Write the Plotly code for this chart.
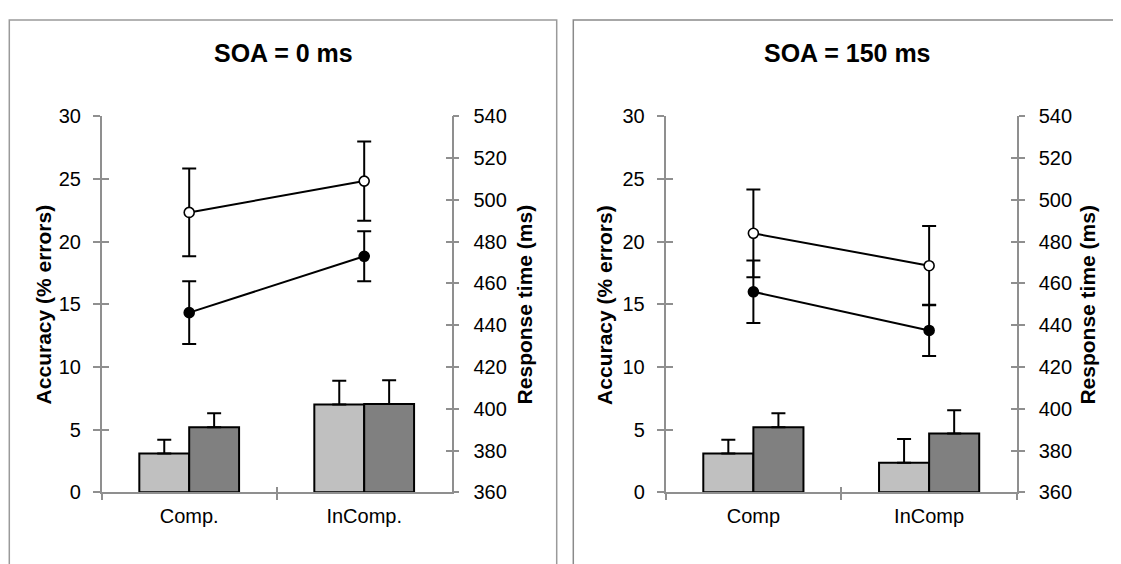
import plotly.graph_objects as go

W, H = 1121, 564
OFF = 8  # the page body adds an 8 px margin; compensate so pixels match the window

# ---------------- data ----------------
cats_0 = ["Comp.", "InComp."]
cats_150 = ["Comp", "InComp"]

# SOA = 0 ms : accuracy (% errors), bars
acc_light_0 = [3.1, 7.0]
acc_light_err_0 = [1.1, 1.9]
acc_dark_0 = [5.2, 7.05]
acc_dark_err_0 = [1.1, 1.9]
# SOA = 0 ms : response time (ms), lines
rt_open_0 = [494, 509]
rt_open_err_0 = [21, 19]
rt_fill_0 = [446, 473]
rt_fill_err_0 = [15, 12]

# SOA = 150 ms
acc_light_150 = [3.1, 2.35]
acc_light_err_150 = [1.1, 1.9]
acc_dark_150 = [5.2, 4.7]
acc_dark_err_150 = [1.1, 1.85]
rt_open_150 = [484, 468.5]
rt_open_err_150 = [21, 19]
rt_fill_150 = [456, 437.5]
rt_fill_err_150 = [15, 12.3]

acc_ticks = [0, 5, 10, 15, 20, 25, 30]
rt_ticks = [360, 380, 400, 420, 440, 460, 480, 500, 520, 540]

# ---------------- styling ----------------
FONT = "Arial, Liberation Sans, sans-serif"
AX = "#8f8f8f"
LIGHT = "#c0c0c0"
DARK = "#808080"

def px_x(p):
    return (p - OFF) / W

def px_y(p):
    return 1 - (p - OFF) / H

fig = go.Figure()

def add_panel(cats, al, ale, ad, ade, ro, roe, rf, rfe, xa, ya, ya2):
    fig.add_trace(go.Bar(x=cats, y=al, marker=dict(color=LIGHT, line=dict(color="black", width=2)),
                         error_y=dict(type="data", symmetric=False, array=ale, arrayminus=[0] * len(ale),
                                      thickness=2, width=7, color="black"),
                         xaxis=xa, yaxis=ya, showlegend=False))
    fig.add_trace(go.Bar(x=cats, y=ad, marker=dict(color=DARK, line=dict(color="black", width=2)),
                         error_y=dict(type="data", symmetric=False, array=ade, arrayminus=[0] * len(ade),
                                      thickness=2, width=7, color="black"),
                         xaxis=xa, yaxis=ya, showlegend=False))
    fig.add_trace(go.Scatter(x=cats, y=ro, mode="lines+markers",
                             line=dict(color="black", width=2),
                             marker=dict(symbol="circle", size=10, color="white", line=dict(color="black", width=1.6)),
                             error_y=dict(type="data", array=roe, thickness=2, width=7, color="black"),
                             xaxis=xa, yaxis=ya2, showlegend=False))
    fig.add_trace(go.Scatter(x=cats, y=rf, mode="lines+markers",
                             line=dict(color="black", width=2),
                             marker=dict(symbol="circle", size=10, color="black", line=dict(color="black", width=1.6)),
                             error_y=dict(type="data", array=rfe, thickness=2, width=7, color="black"),
                             xaxis=xa, yaxis=ya2, showlegend=False))

add_panel(cats_0, acc_light_0, acc_light_err_0, acc_dark_0, acc_dark_err_0,
          rt_open_0, rt_open_err_0, rt_fill_0, rt_fill_err_0, "x", "y", "y2")
add_panel(cats_150, acc_light_150, acc_light_err_150, acc_dark_150, acc_dark_err_150,
          rt_open_150, rt_open_err_150, rt_fill_150, rt_fill_err_150, "x2", "y3", "y4")

# dummy traces carrying the inner half of the crossing ticks
fig.add_trace(go.Scatter(x=cats_0, y=[None, None], xaxis="x3", yaxis="y5", showlegend=False, hoverinfo="skip"))
fig.add_trace(go.Scatter(x=cats_0, y=[None, None], xaxis="x3", yaxis="y6", showlegend=False, hoverinfo="skip"))
fig.add_trace(go.Scatter(x=cats_150, y=[None, None], xaxis="x4", yaxis="y7", showlegend=False, hoverinfo="skip"))
fig.add_trace(go.Scatter(x=cats_150, y=[None, None], xaxis="x4", yaxis="y8", showlegend=False, hoverinfo="skip"))

dom1 = [px_x(101.7), px_x(451.7)]
dom2 = [px_x(665.5), px_x(1017)]
ydom = [px_y(500.5), px_y(109.3)]

tickfont = dict(family=FONT, size=20, color="black")

def xaxis_main(dom, anchor):
    return dict(domain=dom, anchor=anchor, type="category", range=[-0.5, 1.5],
                showline=True, linecolor=AX, linewidth=1.5, showgrid=False, zeroline=False,
                ticks="outside", tickson="boundaries", ticklen=6, tickcolor=AX, tickwidth=1.5,
                tickfont=tickfont, ticklabelstandoff=5, fixedrange=True)

def xaxis_inner(dom, anchor, over):
    return dict(domain=dom, anchor=anchor, overlaying=over, type="category", range=[-0.5, 1.5],
                showline=False, showgrid=False, zeroline=False, showticklabels=False,
                ticks="inside", tickson="boundaries", ticklen=5, tickcolor=AX, tickwidth=1.5)

def yacc(anchor, inner=False, over=None):
    d = dict(domain=ydom, anchor=anchor, range=[0, 30], tickvals=acc_ticks, side="left",
             showgrid=False, zeroline=False, tickcolor=AX, tickwidth=1.5)
    if inner:
        d.update(overlaying=over, ticks="inside", ticklen=7, showline=False, showticklabels=False)
    else:
        d.update(ticks="outside", ticklen=7, showline=True, linecolor=AX, linewidth=1.5,
                 tickfont=tickfont, ticklabelstandoff=8)
    return d

def yrt(anchor, over, inner=False):
    d = dict(domain=ydom, anchor=anchor, overlaying=over, range=[360, 540], tickvals=rt_ticks, side="right",
             showgrid=False, zeroline=False, tickcolor=AX, tickwidth=1.5)
    if inner:
        d.update(ticks="inside", ticklen=6, showline=False, showticklabels=False)
    else:
        d.update(ticks="outside", ticklen=6, showline=True, linecolor=AX, linewidth=1.5,
                 tickfont=tickfont, ticklabelstandoff=10)
    return d

fig.update_layout(
    width=W, height=H,
    margin=dict(l=0, r=0, t=0, b=0),
    paper_bgcolor="white", plot_bgcolor="white",
    barmode="group", bargap=0.43, bargroupgap=0,
    showlegend=False,
    xaxis=xaxis_main(dom1, "y"),
    xaxis2=xaxis_main(dom2, "y3"),
    xaxis3=xaxis_inner(dom1, "y", "x"),
    xaxis4=xaxis_inner(dom2, "y3", "x2"),
    yaxis=yacc("x"),
    yaxis2=yrt("x", "y"),
    yaxis3=yacc("x2"),
    yaxis4=yrt("x2", "y3"),
    yaxis5=yacc("x", inner=True, over="y"),
    yaxis6=yrt("x", "y", inner=True),
    yaxis7=yacc("x2", inner=True, over="y3"),
    yaxis8=yrt("x2", "y3", inner=True),
)

# panel frames
fig.add_shape(type="rect", xref="paper", yref="paper",
              x0=px_x(9.3), x1=px_x(556.7), y0=-0.1, y1=px_y(9),
              line=dict(color="#9a9a9a", width=1.5), fillcolor="rgba(0,0,0,0)", layer="below")
fig.add_shape(type="rect", xref="paper", yref="paper",
              x0=px_x(573.3), x1=px_x(1119.5), y0=-0.1, y1=px_y(9),
              line=dict(color="#8a8a8a", width=1.5), fillcolor="rgba(0,0,0,0)", layer="below")

def ann(text, x, y, size, bold=True, angle=0):
    fig.add_annotation(text=f"<b>{text}</b>" if bold else text, xref="paper", yref="paper",
                       x=px_x(x), y=px_y(y), xanchor="center", yanchor="middle",
                       showarrow=False, textangle=angle,
                       font=dict(family=FONT, size=size, color="black"))

ann("SOA = 0 ms", 283.3, 43, 25)
ann("SOA = 150 ms", 847.2, 43, 25)
ann("Accuracy (% errors)", 43.5, 305.5, 21, angle=-90)
ann("Response time (ms)", 524.5, 305.5, 21, angle=-90)
ann("Accuracy (% errors)", 605, 305.5, 21, angle=-90)
ann("Response time (ms)", 1087.7, 305.5, 21, angle=-90)

fig.write_html("out.html")
